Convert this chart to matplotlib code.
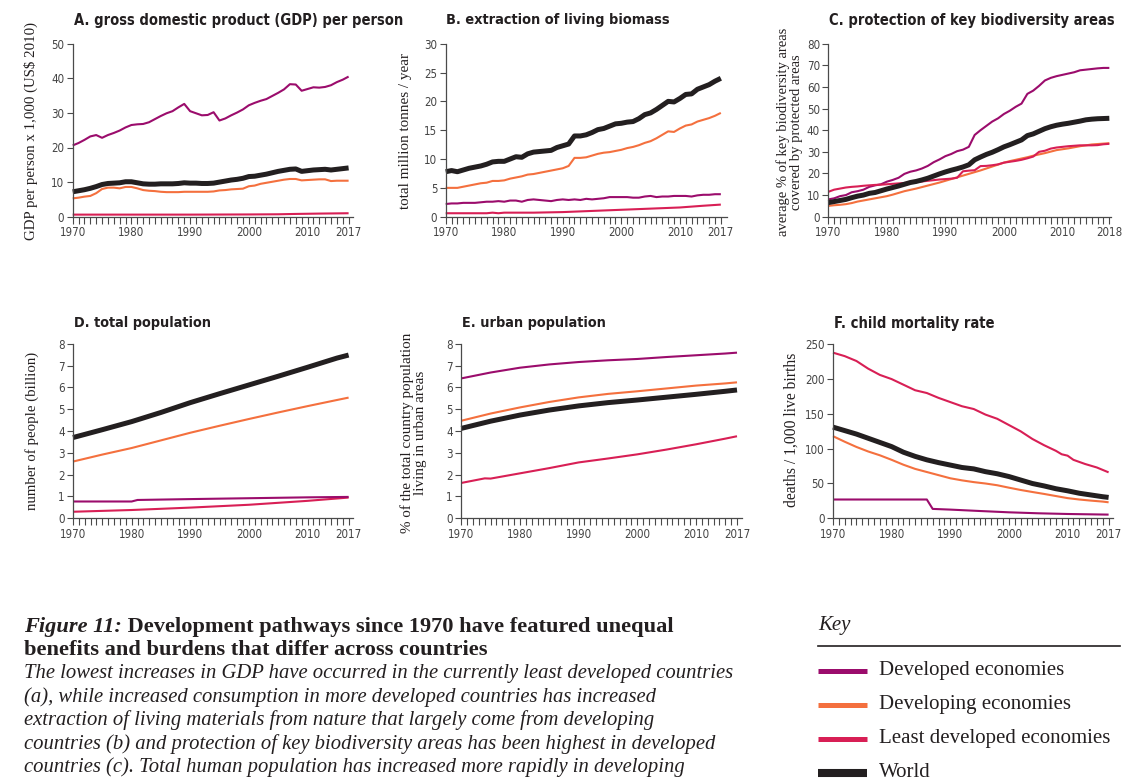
import os
import matplotlib
matplotlib.use('Agg')
import matplotlib.pyplot as plt
from matplotlib import font_manager as fm

# ---------------- data ----------------
years = list(range(1970, 2018))
years_c = list(range(1970, 2019))

# A. GDP per person (x1000 US$ 2010)
gdp_developed = [20.6, 21.3, 22.2, 23.2, 23.6, 22.8, 23.6, 24.2, 24.9, 25.8,
                 26.5, 26.7, 26.8, 27.3, 28.2, 29.1, 29.9, 30.5, 31.6, 32.6,
                 30.5, 29.9, 29.3, 29.4, 30.2, 27.8, 28.4, 29.3, 30.1, 31.0,
                 32.2, 32.9, 33.5, 34.0, 34.9, 35.8, 36.8, 38.3, 38.2, 36.4,
                 36.9, 37.4, 37.3, 37.5, 38.0, 38.9, 39.6, 40.5]
gdp_developing = [5.3, 5.5, 5.8, 6.0, 6.8, 8.0, 8.4, 8.4, 8.2, 8.6,
                  8.6, 8.2, 7.7, 7.5, 7.4, 7.2, 7.1, 7.1, 7.1, 7.2,
                  7.2, 7.2, 7.2, 7.2, 7.3, 7.6, 7.7, 7.9, 8.0, 8.1,
                  8.8, 9.0, 9.5, 9.8, 10.1, 10.4, 10.7, 10.9, 10.9, 10.5,
                  10.6, 10.7, 10.8, 10.8, 10.3, 10.4, 10.4, 10.4]
gdp_least_years = [1970, 1980, 1990, 2000, 2005, 2008, 2012, 2017]
gdp_least = [0.6, 0.6, 0.6, 0.65, 0.7, 0.8, 0.9, 1.0]
gdp_world = [7.2, 7.5, 7.8, 8.2, 8.7, 9.3, 9.6, 9.7, 9.8, 10.1,
             10.1, 9.8, 9.5, 9.4, 9.4, 9.5, 9.5, 9.5, 9.6, 9.8,
             9.7, 9.7, 9.6, 9.6, 9.7, 10.0, 10.3, 10.6, 10.8, 11.1,
             11.6, 11.7, 12.0, 12.3, 12.7, 13.1, 13.4, 13.7, 13.8, 13.1,
             13.3, 13.5, 13.6, 13.7, 13.5, 13.7, 13.9, 14.1]

# B. extraction of living biomass (million tonnes / year)
bio_world = [7.8, 8.0, 7.8, 8.1, 8.4, 8.6, 8.8, 9.1, 9.5, 9.6,
             9.6, 10.0, 10.4, 10.3, 10.9, 11.2, 11.3, 11.4, 11.5, 12.0,
             12.3, 12.6, 14.0, 14.0, 14.2, 14.6, 15.1, 15.3, 15.7, 16.1,
             16.2, 16.4, 16.5, 17.0, 17.7, 18.0, 18.6, 19.3, 20.0, 19.9,
             20.5, 21.2, 21.3, 22.1, 22.5, 22.9, 23.5, 24.0]
bio_developing = [5.0, 5.0, 5.0, 5.2, 5.4, 5.6, 5.8, 5.9, 6.2, 6.2,
                  6.3, 6.6, 6.8, 7.0, 7.3, 7.4, 7.6, 7.8, 8.0, 8.2,
                  8.4, 8.8, 10.2, 10.2, 10.3, 10.6, 10.9, 11.1, 11.2, 11.4,
                  11.6, 11.9, 12.1, 12.4, 12.8, 13.1, 13.6, 14.2, 14.8, 14.7,
                  15.3, 15.8, 16.0, 16.5, 16.8, 17.1, 17.5, 18.0]
bio_developed = [2.2, 2.3, 2.3, 2.4, 2.4, 2.4, 2.5, 2.6, 2.6, 2.7,
                 2.6, 2.8, 2.8, 2.6, 2.9, 3.0, 2.9, 2.8, 2.7, 2.9,
                 3.0, 2.9, 3.0, 2.9, 3.1, 3.0, 3.1, 3.2, 3.4, 3.4,
                 3.4, 3.4, 3.3, 3.3, 3.5, 3.6, 3.4, 3.5, 3.5, 3.6,
                 3.6, 3.6, 3.5, 3.7, 3.8, 3.8, 3.9, 3.9]
bio_least_years = [1970, 1977, 1978, 1979, 1980, 1985, 1990, 1995, 2000, 2005, 2010, 2014, 2017]
bio_least = [0.6, 0.6, 0.7, 0.6, 0.7, 0.7, 0.8, 1.0, 1.2, 1.4, 1.6, 1.9, 2.1]

# C. protection of key biodiversity areas (%)
kba_developed = [8.0, 8.5, 9.5, 10.0, 11.3, 11.8, 12.5, 13.8, 14.5, 15.0,
                 16.2, 17.0, 18.0, 19.8, 20.8, 21.4, 22.3, 23.5, 25.2, 26.5,
                 28.0, 29.0, 30.3, 31.0, 32.3, 37.8, 40.0, 42.0, 44.0, 45.5,
                 47.5, 49.0, 50.8, 52.3, 56.8, 58.3, 60.5, 63.0, 64.2, 65.0,
                 65.6, 66.2, 66.8, 67.7, 68.0, 68.3, 68.6, 68.8, 68.8]
kba_world = [6.5, 7.0, 7.5, 8.0, 8.8, 9.5, 10.0, 10.8, 11.2, 12.0,
             12.8, 13.5, 14.2, 15.0, 15.8, 16.3, 17.0, 17.8, 18.8, 19.8,
             20.7, 21.5, 22.2, 23.0, 24.0, 26.3, 27.6, 28.8, 29.8, 31.0,
             32.3, 33.3, 34.4, 35.5, 37.5, 38.3, 39.5, 40.7, 41.6, 42.3,
             42.8, 43.2, 43.7, 44.2, 44.8, 45.1, 45.3, 45.4, 45.5]
kba_developing = [5.0, 5.3, 5.5, 5.8, 6.3, 7.0, 7.5, 8.0, 8.5, 9.0,
                  9.5, 10.2, 11.0, 11.8, 12.4, 13.0, 13.7, 14.4, 15.1, 15.8,
                  16.6, 17.4, 18.2, 19.0, 19.8, 20.6, 21.4, 22.3, 23.2, 24.1,
                  25.0, 25.7, 26.3, 26.9, 27.5, 28.2, 28.8, 29.4, 30.1, 30.8,
                  31.2, 31.6, 32.1, 32.6, 33.0, 33.4, 33.6, 33.8, 34.0]
kba_least = [11.5, 12.5, 13.0, 13.5, 13.8, 14.0, 14.3, 14.5, 14.7, 14.8,
             15.0, 15.2, 15.4, 15.6, 15.8, 16.0, 16.3, 16.6, 16.9, 17.2,
             17.4, 17.6, 18.0, 21.0, 21.3, 21.5, 23.4, 23.5, 23.8, 24.2,
             25.0, 25.4, 25.8, 26.3, 27.0, 27.8, 30.0, 30.5, 31.5, 32.0,
             32.3, 32.6, 32.8, 33.0, 33.0, 33.0, 33.1, 33.5, 33.7]

# D. total population (billion)
pop_years = [1970, 1975, 1980, 1985, 1990, 1995, 2000, 2005, 2010, 2015, 2017]
pop_world = [3.70, 4.06, 4.43, 4.85, 5.30, 5.71, 6.11, 6.51, 6.92, 7.34, 7.48]
pop_developing = [2.60, 2.92, 3.22, 3.57, 3.92, 4.24, 4.55, 4.85, 5.14, 5.42, 5.53]
pop_dev_years = [1970, 1980, 1981, 1990, 2000, 2010, 2017]
pop_developed = [0.77, 0.77, 0.84, 0.88, 0.92, 0.96, 0.98]
pop_least_years = [1970, 1980, 1990, 2000, 2010, 2017]
pop_least = [0.30, 0.38, 0.49, 0.62, 0.80, 0.95]

# E. urban population
urb_years = [1970, 1975, 1980, 1985, 1990, 1995, 2000, 2005, 2010, 2015, 2017]
urb_developed = [6.41, 6.68, 6.90, 7.05, 7.16, 7.24, 7.30, 7.39, 7.47, 7.55, 7.59]
urb_developing = [4.47, 4.80, 5.08, 5.33, 5.54, 5.70, 5.82, 5.95, 6.08, 6.18, 6.23]
urb_world = [4.12, 4.45, 4.73, 4.96, 5.15, 5.30, 5.42, 5.55, 5.68, 5.82, 5.88]
urb_least_years = [1970, 1974, 1975, 1980, 1985, 1990, 1995, 2000, 2005, 2010, 2015, 2017]
urb_least = [1.62, 1.83, 1.82, 2.06, 2.30, 2.56, 2.74, 2.93, 3.15, 3.39, 3.65, 3.76]

# F. child mortality (deaths / 1,000 live births)
cm_least_years = [1970, 1972, 1974, 1976, 1978, 1980, 1982, 1984, 1985, 1986, 1988, 1990,
                  1992, 1994, 1996, 1998, 2000, 2002, 2004, 2006, 2008, 2009, 2010,
                  2011, 2013, 2015, 2017]
cm_least = [238, 233, 226, 215, 206, 200, 192, 184, 182, 180, 173, 167,
            161, 157, 149, 143, 134, 125, 114, 105, 97, 92, 90, 84, 78, 73, 66]
cm_years = [1970, 1972, 1974, 1976, 1978, 1980, 1982, 1984, 1986, 1988, 1990, 1992,
            1994, 1996, 1998, 2000, 2002, 2004, 2006, 2008, 2010, 2012, 2014, 2016, 2017]
cm_world = [131, 126, 121, 115, 109, 103, 95, 89, 84, 80, 76.5, 73,
            71, 67, 64, 60, 55, 50, 46.5, 42.5, 39.5, 36, 33.5, 31, 30]
cm_developing = [118, 110, 102.5, 96, 90.5, 84, 77, 71, 66.5, 62, 57.5, 54.5,
                 52, 50, 47.5, 44, 40.7, 37.8, 35, 32, 29, 27, 25.4, 24, 23]
cm_dev_years = [1970, 1986, 1987, 1990, 1995, 2000, 2005, 2010, 2017]
cm_developed = [27, 27, 13.5, 12.5, 10.5, 8.6, 7.2, 6.2, 5.3]

legend_labels = ['Developed economies', 'Developing economies',
                 'Least developed economies', 'World']

caption_lead = 'Figure 11:'
caption_bold = [' Development pathways since 1970 have featured unequal',
                'benefits and burdens that differ across countries']
caption_italic = [
    'The lowest increases in GDP have occurred in the currently least developed countries',
    '(a), while increased consumption in more developed countries has increased',
    'extraction of living materials from nature that largely come from developing',
    'countries (b) and protection of key biodiversity areas has been highest in developed',
    'countries (c). Total human population has increased more rapidly in developing',
]

# ---------------- fonts ----------------
SERIF = ['Liberation Serif', 'DejaVu Serif']


def find_condensed(want_weight):
    best, best_score = None, None
    for f in fm.fontManager.ttflist:
        base = os.path.basename(f.fname).lower()
        nm = f.name.lower()
        cond = ('condensed' in base or 'narrow' in base or 'condensed' in nm
                or 'narrow' in nm or str(f.stretch) in ('condensed', 'semi-condensed',
                                                          'extra-condensed'))
        if not cond:
            continue
        if 'serif' in nm and 'sans' not in nm:
            continue
        if 'mono' in nm or 'italic' in base or 'oblique' in base or f.style != 'normal':
            continue
        w = f.weight
        if not isinstance(w, (int, float)):
            w = {'normal': 400, 'regular': 400, 'bold': 700, 'light': 300}.get(str(w), 400)
        score = abs(w - want_weight)
        if 'extracondensed' in base or 'extra-condensed' in str(f.stretch):
            score += 30
        if best_score is None or score < best_score:
            best, best_score = f.fname, score
    return best


COND_REG = find_condensed(400)
COND_BOLD = find_condensed(700)


def cond_fp(size, bold=False):
    path = COND_BOLD if bold else COND_REG
    if path:
        return fm.FontProperties(fname=path, size=size)
    return fm.FontProperties(family='DejaVu Sans', size=size,
                             weight='bold' if bold else 'normal')


C_DEV = '#9b0c6c'
C_DVG = '#f4703e'
C_LDC = '#d81f55'
C_WLD = '#231f20'
AX_C = '#4a4a4a'
LW = 1.5
LW_W = 3.6

W, H = 1140, 782
fig = plt.figure(figsize=(W / 100, H / 100), dpi=100)
renderer = fig.canvas.get_renderer()


def fit(t, target, use_height=False):
    bb = t.get_window_extent(renderer)
    cur = bb.height if use_height else bb.width
    if cur > 0:
        t.set_fontsize(t.get_fontsize() * target / cur)


def make_ax(l, r, t, b):
    return fig.add_axes([l / W, 1 - b / H, (r - l) / W, (b - t) / H])


def style(ax, ymax, ystep, xlast, xright):
    for s in ('top', 'right'):
        ax.spines[s].set_visible(False)
    for s in ('left', 'bottom'):
        ax.spines[s].set_color(AX_C)
        ax.spines[s].set_linewidth(0.9)
    ax.set_xlim(1970, xright)
    ax.set_ylim(0, ymax)
    ax.set_yticks(list(range(0, ymax + 1, ystep)))
    ax.set_xticks([1970, 1980, 1990, 2000, 2010, xlast])
    ax.set_xticks(list(range(1970, xlast + 1)), minor=True)
    ax.tick_params(axis='both', which='both', direction='out', color=AX_C,
                   width=0.8, labelcolor='#444444')
    ax.tick_params(axis='x', which='both', length=5, pad=2)
    ax.tick_params(axis='y', which='major', length=4, pad=2)
    for lab in ax.get_xticklabels() + ax.get_yticklabels():
        lab.set_fontproperties(cond_fp(8.3))
    ax.patch.set_alpha(0)


def draw(ax, x, y, color, lw):
    ax.plot(x, y, color=color, lw=lw, clip_on=False,
            solid_joinstyle='round', solid_capstyle='butt')


def title(x, y, s, target_w):
    t = fig.text(x / W, 1 - y / H, s, fontproperties=cond_fp(13, bold=True),
                 ha='left', va='center', color='#231f20')
    fit(t, target_w * 1.2)


def ylab(x, y, s, target_h):
    t = fig.text(x / W, 1 - y / H, s, rotation=90, ha='center', va='center',
                 multialignment='center', family=SERIF, fontsize=10,
                 color='#231f20', linespacing=1.0)
    fit(t, target_h, use_height=True)


# A
axA = make_ax(72.7, 353.3, 43.7, 216.7)
style(axA, 50, 10, 2017, 2017.8)
draw(axA, years, gdp_developed, C_DEV, LW)
draw(axA, years, gdp_developing, C_DVG, LW)
draw(axA, gdp_least_years, gdp_least, C_LDC, LW)
draw(axA, years, gdp_world, C_WLD, LW_W)
title(74, 20, 'A. gross domestic product (GDP) per person', 273)
ylab(31, 131, 'GDP per person x 1,000 (US$ 2010)', 218)

# B
axB = make_ax(445.7, 726.7, 43.7, 216.7)
style(axB, 30, 5, 2017, 2018.0)
draw(axB, years, bio_developed, C_DEV, LW)
draw(axB, years, bio_developing, C_DVG, LW)
draw(axB, bio_least_years, bio_least, C_LDC, LW)
draw(axB, years, bio_world, C_WLD, LW_W)
title(446, 20, 'B. extraction of living biomass', 187)
ylab(406, 131, 'total million tonnes / year', 156)

# C
axC = make_ax(828.3, 1110.5, 43.7, 216.7)
style(axC, 80, 10, 2018, 2018.2)
draw(axC, years_c, kba_developed, C_DEV, LW)
draw(axC, years_c, kba_developing, C_DVG, LW)
draw(axC, years_c, kba_least, C_LDC, LW)
draw(axC, years_c, kba_world, C_WLD, LW_W)
title(829, 20, 'C. protection of key biodiversity areas', 237)
ylab(790, 132, 'average % of key biodiversity areas\ncovered by protected areas', 210)

# D
axD = make_ax(73, 353.3, 343.7, 518.3)
style(axD, 8, 1, 2017, 2017.8)
draw(axD, pop_least_years, pop_least, C_LDC, LW)
draw(axD, pop_dev_years, pop_developed, C_DEV, LW)
draw(axD, pop_years, pop_developing, C_DVG, LW)
draw(axD, pop_years, pop_world, C_WLD, LW_W)
title(74, 323, 'D. total population', 115)
ylab(32, 431, 'number of people (billion)', 157)

# E
axE = make_ax(461.3, 741.7, 343.7, 518.3)
style(axE, 8, 1, 2017, 2017.8)
draw(axE, urb_years, urb_developed, C_DEV, LW)
draw(axE, urb_years, urb_developing, C_DVG, LW)
draw(axE, urb_least_years, urb_least, C_LDC, LW)
draw(axE, urb_years, urb_world, C_WLD, LW_W)
title(462, 323, 'E. urban population', 120)
ylab(414, 433, '% of the total country population\nliving in urban areas', 200)

# F
axF = make_ax(833, 1113.3, 344.3, 518.3)
style(axF, 250, 50, 2017, 2017.8)
draw(axF, cm_dev_years, cm_developed, C_DEV, LW)
draw(axF, cm_years, cm_developing, C_DVG, LW)
draw(axF, cm_least_years, cm_least, C_LDC, LW)
draw(axF, cm_years, cm_world, C_WLD, LW_W)
title(834, 323, 'F. child mortality rate', 133)
ylab(792, 430, 'deaths / 1,000 live births', 154)

# ---------------- caption ----------------
BOLD_SIZE = 16.1
IT_SIZE = 14.85
t0 = fig.text(24 / W, 1 - 632 / H, caption_lead, family=SERIF, fontsize=BOLD_SIZE,
              fontweight='bold', style='italic', ha='left', va='baseline',
              color='#231f20')
bb = t0.get_window_extent(renderer)
fig.text(bb.x1 / W, 1 - 632 / H, caption_bold[0], family=SERIF, fontsize=BOLD_SIZE,
         fontweight='bold', ha='left', va='baseline', color='#231f20')
fig.text(24 / W, 1 - 655 / H, caption_bold[1], family=SERIF, fontsize=BOLD_SIZE,
         fontweight='bold', ha='left', va='baseline', color='#231f20')
base = 678
for i, line in enumerate(caption_italic):
    fig.text(24 / W, 1 - (base + i * 23.6) / H, line, family=SERIF,
             fontsize=IT_SIZE, style='italic', ha='left', va='baseline',
             color='#231f20')

# ---------------- key ----------------
fig.text(818 / W, 1 - 630 / H, 'Key', family=SERIF, fontsize=15, style='italic',
         ha='left', va='baseline', color='#231f20')
fig.add_artist(plt.Line2D([818 / W, 1120 / W], [1 - 646 / H, 1 - 646 / H],
                          color='#231f20', lw=1.2))
key_colors = [C_DEV, C_DVG, C_LDC, C_WLD]
key_lw = [3.6, 3.6, 3.6, 5.8]
key_y = [671, 705, 739, 772.5]
for lab, col, lw, y in zip(legend_labels, key_colors, key_lw, key_y):
    fig.add_artist(plt.Line2D([818 / W, 866.7 / W], [1 - y / H, 1 - y / H],
                              color=col, lw=lw, solid_capstyle='butt'))
    fig.text(879 / W, 1 - y / H, lab, family=SERIF, fontsize=15,
             ha='left', va='center', color='#231f20')

fig.savefig('out.png', dpi=100)
